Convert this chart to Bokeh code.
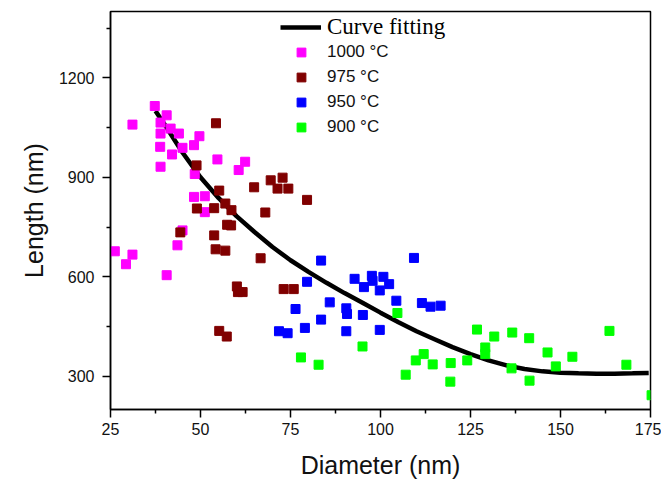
from bokeh.plotting import figure
from bokeh.models import Range1d, FixedTicker, Legend, LegendItem
from bokeh.embed import file_html
from bokeh.resources import INLINE

# ---- axis ticks ----
x_ticks = [25, 50, 75, 100, 125, 150, 175]
x_minor = [37.5, 62.5, 87.5, 112.5, 137.5, 162.5]
y_ticks = [300, 600, 900, 1200]
y_minor = [450, 750, 1050, 1350]

# ---- series: 1000 C ----
t1000_x = [37.3, 31.1, 40.6, 38.9, 41.7, 38.9, 44.0, 49.7, 38.8, 45.0, 48.2, 42.1, 38.9,
           54.7, 62.4, 60.6, 48.4, 48.2, 51.2, 51.2, 45.0, 43.6, 26.2, 31.1, 29.3, 40.6]
t1000_y = [1115, 1059, 1087, 1065, 1047, 1032, 1032, 1024, 992, 989, 997, 969, 932,
           954, 947, 922, 910, 841, 843, 795, 740, 695, 677, 667, 638, 605]

# ---- series: 975 C ----
t975_x = [54.3, 48.9, 55.2, 49.0, 53.8, 56.9, 58.6, 57.4, 58.5, 53.8, 54.2, 56.9, 64.9, 69.5,
          72.8, 71.4, 74.4, 79.6, 68.0, 66.7, 60.1, 60.4, 61.7, 73.1, 75.9, 55.2, 57.3, 44.4]
t975_y = [1063, 936, 860, 806, 807, 821, 801, 757, 755, 725, 683, 679, 870, 891,
          899, 866, 866, 832, 794, 656, 571, 554, 554, 563, 563, 437, 420, 734]

# ---- series: 950 C ----
t950_x = [83.5, 109.3, 79.6, 92.8, 97.6, 97.8, 100.8, 95.4, 102.4, 99.8, 85.9, 90.5, 90.7,
          95.1, 104.4, 111.5, 113.9, 116.7, 76.4, 83.5, 79.0, 71.8, 74.2, 90.5, 99.8]
t950_y = [649, 657, 585, 594, 603, 588, 600, 569, 578, 559, 523, 505, 488,
          485, 528, 521, 510, 513, 503, 471, 446, 436, 430, 436, 440]

# ---- series: 900 C ----
t900_x = [104.7, 95.0, 77.9, 82.8, 126.8, 131.6, 136.6, 141.3, 129.1, 129.1, 124.1, 112.0, 109.8,
          114.5, 119.5, 107.0, 119.4, 136.4, 141.4, 146.4, 148.7, 153.3, 163.6, 168.3, 175.3]
t900_y = [491, 390, 357, 335, 441, 420, 432, 415, 387, 367, 348, 367, 348,
          336, 340, 305, 284, 324, 287, 372, 330, 359, 437, 335, 243]

# ---- fitted curve ----
fit_x = [37.5, 40, 45, 50, 55, 60, 65, 70, 75, 80, 85, 90, 95, 100, 105, 110, 115, 120,
         125, 130, 135, 140, 145, 150, 155, 160, 165, 170, 174.5]
fit_y = [1100, 1060, 975, 900, 838, 783, 735, 690, 650, 615, 582, 551, 522, 492, 463, 436,
         412, 388, 367, 348, 333, 322, 315, 311, 309, 308, 308, 309, 310]

FONT = "Liberation Sans"

p = figure(width=661, height=482, output_backend="svg", toolbar_location=None,
           x_range=Range1d(25, 175), y_range=Range1d(200, 1400),
           min_border_left=110, min_border_right=11, min_border_top=11, min_border_bottom=73,
           x_axis_label="Diameter (nm)", y_axis_label="Length (nm)")

p.background_fill_color = "white"
p.border_fill_color = "white"
p.xgrid.visible = False
p.ygrid.visible = False
p.outline_line_color = "black"
p.outline_line_width = 1.5
p.outline_line_alpha = 1.0

p.xaxis.ticker = FixedTicker(ticks=x_ticks, minor_ticks=x_minor)
p.yaxis.ticker = FixedTicker(ticks=y_ticks, minor_ticks=y_minor)

for ax in (p.xaxis[0], p.yaxis[0]):
    ax.axis_line_color = "black"
    ax.axis_line_width = 1.5
    ax.major_tick_line_color = "black"
    ax.major_tick_line_width = 1.5
    ax.minor_tick_line_color = "black"
    ax.minor_tick_line_width = 1.5
    ax.major_tick_in = 0
    ax.major_tick_out = 8
    ax.minor_tick_in = 0
    ax.minor_tick_out = 4
    ax.major_label_text_font = FONT
    ax.major_label_text_font_size = "16px"
    ax.major_label_text_color = "#111111"
    ax.axis_label_text_font = FONT
    ax.axis_label_text_font_size = "25px"
    ax.axis_label_text_font_style = "normal"
    ax.axis_label_text_color = "#111111"

p.xaxis.major_label_standoff = 5
p.xaxis.axis_label_standoff = 13
p.yaxis.major_label_standoff = 8
p.yaxis.axis_label_standoff = 8

curve = p.line(fit_x, fit_y, line_color="black", line_width=4.5)

SZ = 9
r1000 = p.scatter(t1000_x, t1000_y, marker="square", size=SZ, fill_color="#FF00FF", line_color="#FF00FF")
r975 = p.scatter(t975_x, t975_y, marker="square", size=SZ, fill_color="#800000", line_color="#800000")
r950 = p.scatter(t950_x, t950_y, marker="square", size=SZ, fill_color="#0000FF", line_color="#0000FF")
r900 = p.scatter(t900_x, t900_y, marker="square", size=SZ, fill_color="#00FF00", line_color="#00FF00")

leg1 = Legend(items=[LegendItem(label="Curve fitting", renderers=[curve])],
              location=(170, 369), padding=0, margin=0, spacing=0,
              glyph_width=41, glyph_height=20, label_height=20, label_standoff=6,
              label_text_font="Liberation Serif", label_text_font_size="23px",
              label_text_color="black",
              background_fill_alpha=0, border_line_color=None)

leg2 = Legend(items=[LegendItem(label="1000 \u00b0C", renderers=[r1000]),
                     LegendItem(label="975 \u00b0C", renderers=[r975]),
                     LegendItem(label="950 \u00b0C", renderers=[r950]),
                     LegendItem(label="900 \u00b0C", renderers=[r900])],
              location=(180, 271), padding=0, margin=0, spacing=3,
              glyph_width=22, glyph_height=22, label_height=22, label_standoff=15,
              label_text_font=FONT, label_text_font_size="17px",
              label_text_color="#111111",
              background_fill_alpha=0, border_line_color=None)

p.add_layout(leg1, "center")
p.add_layout(leg2, "center")

open("out.html", "w").write(file_html(p, INLINE))
